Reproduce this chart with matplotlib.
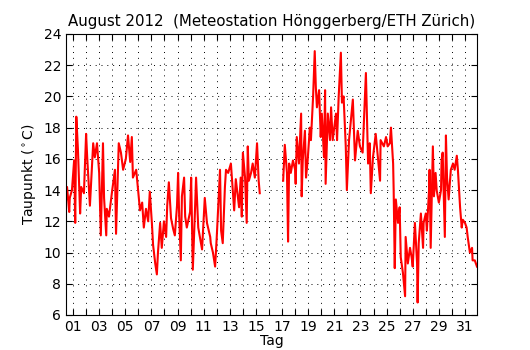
import matplotlib
matplotlib.use('Agg')
import matplotlib.pyplot as plt
import numpy as np

# hours since 1 Aug 2012 00:00, dew point in deg C
hours_a = [-13, -11, -7, -6, -2, 2, 4, 6, 9, 13, 15, 20, 24, 26, 31, 37, 40, 44,
           48, 51, 55, 57, 61, 62, 66, 72, 77, 79, 84, 88, 92, 97, 101, 105, 108,
           110, 116, 119, 123, 127, 130, 134, 138, 141, 145, 147, 151, 154, 156,
           160, 163, 167, 171, 173, 176, 180, 184, 187, 191, 193, 195, 198, 200,
           204, 206, 209, 215, 217, 220, 224, 226, 230, 233, 237, 242, 246, 252,
           253, 257, 261, 264, 268, 270, 272, 275, 279, 281, 285, 290, 296, 299,
           305, 308, 310, 312, 316, 319, 321, 323, 327, 330, 334, 338, 341, 343]
temp_a = [13.3, 14.2, 12.6, 13.5, 14.0, 15.9, 11.9, 18.7, 16.6, 12.5, 14.2, 13.8,
          17.6, 16.1, 13.0, 17.0, 16.1, 17.0, 15.1, 11.1, 17.0, 13.5, 11.1, 12.8,
          12.3, 14.0, 15.3, 11.2, 17.0, 16.4, 15.3, 16.0, 17.5, 15.8, 17.4, 14.8,
          15.3, 14.2, 12.7, 13.2, 11.6, 12.8, 12.0, 13.9, 11.8, 10.5, 9.3, 8.6,
          10.0, 11.9, 10.3, 12.0, 11.0, 13.0, 14.5, 12.2, 11.5, 11.1, 13.0, 15.1,
          12.3, 9.5, 13.6, 14.8, 12.3, 11.6, 12.6, 14.8, 8.9, 12.7, 14.8, 11.6,
          11.0, 10.2, 13.5, 11.9, 11.0, 10.6, 10.0, 9.1, 11.0, 13.8, 15.3, 11.4,
          10.6, 14.2, 15.3, 15.1, 15.7, 12.7, 14.7, 12.9, 14.8, 12.3, 16.4, 14.8,
          11.9, 16.8, 14.6, 15.1, 15.7, 14.8, 17.0, 14.6, 13.8]

hours_b = [386, 389, 393, 395, 397, 400, 404, 408, 409, 411, 415, 419, 420, 422,
           426, 428, 431, 435, 437, 441, 444, 446, 448, 452, 455, 457, 461, 463,
           464, 468, 472, 474, 477, 483, 485, 488, 492, 494, 497, 501, 503, 507,
           510, 514, 518, 523, 527, 532, 536, 538, 542, 545, 547, 551, 554, 556,
           560, 564, 565, 571, 575, 578, 582, 584, 588, 589, 591, 593, 597, 600,
           602, 606, 610, 611, 615, 619, 622, 624, 628, 632, 633, 635, 639, 643,
           644, 648, 650, 654, 655, 657, 661, 663, 666, 668, 672, 676, 677, 679,
           683, 685, 687, 690, 694, 698, 701, 705, 707, 711, 714, 716, 720, 723,
           725, 729, 733, 734, 738, 742]
temp_b = [14.6, 16.9, 15.1, 10.7, 15.7, 15.1, 15.9, 15.3, 14.4, 17.4, 15.7, 18.9,
          13.6, 15.9, 17.8, 14.8, 15.9, 18.0, 17.2, 20.0, 22.9, 20.6, 19.3, 20.4,
          17.4, 18.9, 16.1, 20.4, 14.4, 18.9, 17.2, 19.3, 17.2, 18.9, 17.2, 20.0,
          22.8, 19.6, 20.0, 16.8, 14.0, 17.2, 18.3, 19.8, 15.9, 17.8, 16.8, 16.4,
          19.8, 21.5, 15.7, 17.0, 13.8, 16.1, 17.0, 17.6, 16.1, 14.6, 17.2, 16.8,
          17.4, 16.8, 17.0, 18.0, 15.7, 14.0, 9.0, 13.4, 11.9, 12.9, 9.7, 8.7,
          7.2, 11.0, 9.3, 10.3, 9.7, 9.1, 11.9, 9.3, 6.8, 10.6, 12.5, 10.3, 11.9,
          12.5, 11.4, 14.0, 15.3, 10.3, 16.8, 13.6, 15.1, 14.0, 13.2, 14.0, 15.9,
          16.4, 11.0, 17.5, 14.8, 13.4, 15.3, 15.7, 15.3, 16.2, 15.3, 12.9, 11.6,
          12.1, 11.9, 11.6, 11.0, 10.0, 10.3, 9.5, 9.5, 9.1]

day_ticks = list(range(1, 32))
day_labels = ['%02d' % d if d % 2 == 1 else '' for d in day_ticks]

hours = np.array(hours_a + [np.nan] + hours_b, dtype=float)
temp = np.array(temp_a + [np.nan] + temp_b, dtype=float)
days = 1 + hours / 24.0

fig = plt.figure(figsize=(5.3, 3.5), dpi=100, facecolor='w')
ax = fig.add_axes([0.1245, 0.1, 0.7755, 0.803])

ax.plot(days, temp, color='red', linewidth=1.5)

ax.set_xlim(0.46, 31.92)
ax.set_ylim(6, 24)
ax.set_yticks(np.arange(6, 25, 2))
ax.set_xticks(day_ticks)
ax.set_xticklabels(day_labels)
ax.tick_params(direction='in', top=True, right=True, labelsize=10, length=4)
ax.grid(True, color='black', linestyle=(0, (1, 5)), linewidth=0.7)

ax.set_xlabel('Tag', fontsize=10, labelpad=0)
ax.set_ylabel('Taupunkt ($^\\circ$C)', fontsize=10)
ax.set_title('August 2012  (Meteostation Hönggerberg/ETH Zürich)', fontsize=10.8)

fig.savefig('out.png', dpi=100, facecolor='w')
